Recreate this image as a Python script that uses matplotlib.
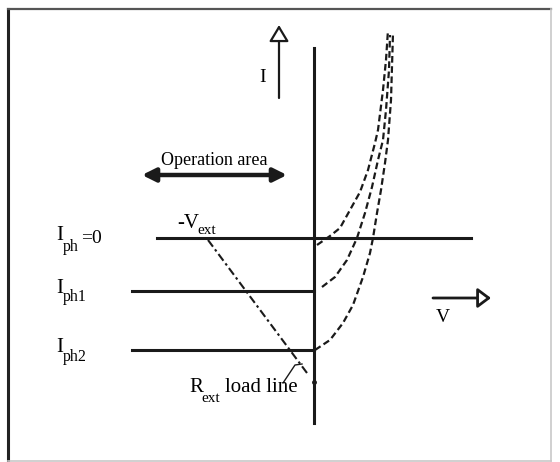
import matplotlib
matplotlib.use("Agg")
import matplotlib.pyplot as plt

plt.rcParams['font.family'] = ['Liberation Serif', 'DejaVu Serif']

# diagram units: V to the right, I upwards, origin where the axes cross
iph_levels = [0.0, -5.3, -11.2]
iph_names = ['ph', 'ph1', 'ph2']
iph_line_start = [-15.7, -18.2, -18.2]
iph_line_end = [15.7, 0.0, 0.0]

# dashed I-V curves
curve_v = [
    [0.3, 1.6, 2.6, 3.6, 4.6, 5.4, 6.1, 6.4, 6.9, 7.2, 7.4],
    [0.8, 2.1, 3.3, 4.3, 5.1, 5.8, 6.4, 6.9, 7.2, 7.5, 7.6],
    [0.1, 1.6, 2.9, 3.9, 4.9, 5.6, 5.9, 6.3, 6.7, 7.1, 7.4, 7.7, 7.9],
]
curve_i = [
    [-0.7, 0.2, 1.0, 2.8, 4.6, 6.8, 9.5, 10.8, 14.8, 17.8, 20.8],
    [-4.9, -3.9, -2.2, 0.0, 2.5, 5.1, 7.8, 9.8, 12.8, 16.8, 20.3],
    [-11.2, -10.2, -8.5, -6.7, -3.9, -1.5, 0.0, 2.5, 4.8, 7.5, 9.8, 13.8, 20.5],
]

load_v = [-10.6, -0.7]
load_i = [-0.2, -13.5]

vaxis_i = [19.0, -18.5]
op_area_v = [-17.2, -2.7]
op_area_i = 6.3
i_arrow = (-3.5, 14.0, 21.3)
v_arrow = (-6.0, 11.9, 17.7)

fig = plt.figure(figsize=(5.6, 4.62), dpi=100)
ax = fig.add_axes([0, 0, 1, 1])
ax.set_xlim(-31.4, 24.6)
ax.set_ylim(-22.4, 23.8)
ax.axis('off')

ink = '#1a1a1a'

# frame
ax.plot([-30.6, -30.6], [-22.3, 22.9], color='#222222', lw=2.2)
ax.plot([-30.6, 23.7], [22.9, 22.9], color='#555555', lw=1.6)
ax.plot([23.7, 23.7], [-22.3, 22.9], color='#c8c8c8', lw=1.2)
ax.plot([-30.6, 23.7], [-22.3, -22.3], color='#c8c8c8', lw=1.2)

# current axis
ax.plot([0, 0], vaxis_i, color=ink, lw=2.2)

for lvl, x0, x1 in zip(iph_levels, iph_line_start, iph_line_end):
    ax.plot([x0, x1], [lvl, lvl], color=ink, lw=2.2)

for cv, ci in zip(curve_v, curve_i):
    ax.plot(cv, ci, color=ink, lw=1.6, dashes=(3, 1.6))

ax.plot(load_v, load_i, color=ink, lw=1.5, dashes=(4, 1.6, 1.2, 1.6))
ax.plot([0], [-14.4], 'o', color=ink, ms=2.5)
ax.plot([-3.1, -1.9, -1.2], [-14.5, -12.7, -12.6], color=ink, lw=1.0)

# operation area double arrow
ax.annotate('', xy=(op_area_v[1], op_area_i), xytext=(op_area_v[0], op_area_i),
            arrowprops=dict(arrowstyle='<|-|>,head_length=0.8,head_width=0.4',
                            color=ink, lw=3.2, shrinkA=0, shrinkB=0))
ax.text(sum(op_area_v) / 2, 7.3, 'Operation area', fontsize=13, ha='center', va='baseline')

# I and V direction arrows with open heads
ax.annotate('', xy=(i_arrow[0], i_arrow[2]), xytext=(i_arrow[0], i_arrow[1]),
            arrowprops=dict(arrowstyle='-|>,head_length=1.0,head_width=0.6',
                            fc='white', ec=ink, lw=1.6, shrinkA=0, shrinkB=0))
ax.text(-5.1, 16.1, 'I', fontsize=14, ha='center', va='center')
ax.annotate('', xy=(v_arrow[2], v_arrow[0]), xytext=(v_arrow[1], v_arrow[0]),
            arrowprops=dict(arrowstyle='-|>,head_length=0.8,head_width=0.6',
                            fc='white', ec=ink, lw=2.0, shrinkA=0, shrinkB=0))
ax.text(12.9, -8.0, 'V', fontsize=14, ha='center', va='center')

# I_ph labels
sub_drop = [1.1, 0.8, 0.9]
for lvl, name, drop in zip(iph_levels, iph_names, sub_drop):
    base = lvl - 0.2
    ax.text(-25.8, base, 'I', fontsize=15, va='baseline')
    ax.text(-25.1, base - drop, name, fontsize=11.5, va='baseline')
ax.text(-23.3, -0.5, '=0', fontsize=14, va='baseline')

ax.text(-13.7, 1.0, '-V', fontsize=15, va='baseline')
ax.text(-11.7, 0.45, 'ext', fontsize=11, va='baseline')

ax.text(-12.5, -15.4, 'R', fontsize=15, va='baseline')
ax.text(-11.3, -16.4, 'ext', fontsize=11, va='baseline')
ax.text(-8.9, -15.4, 'load line', fontsize=15, va='baseline')

fig.savefig('out.png', dpi=100)
